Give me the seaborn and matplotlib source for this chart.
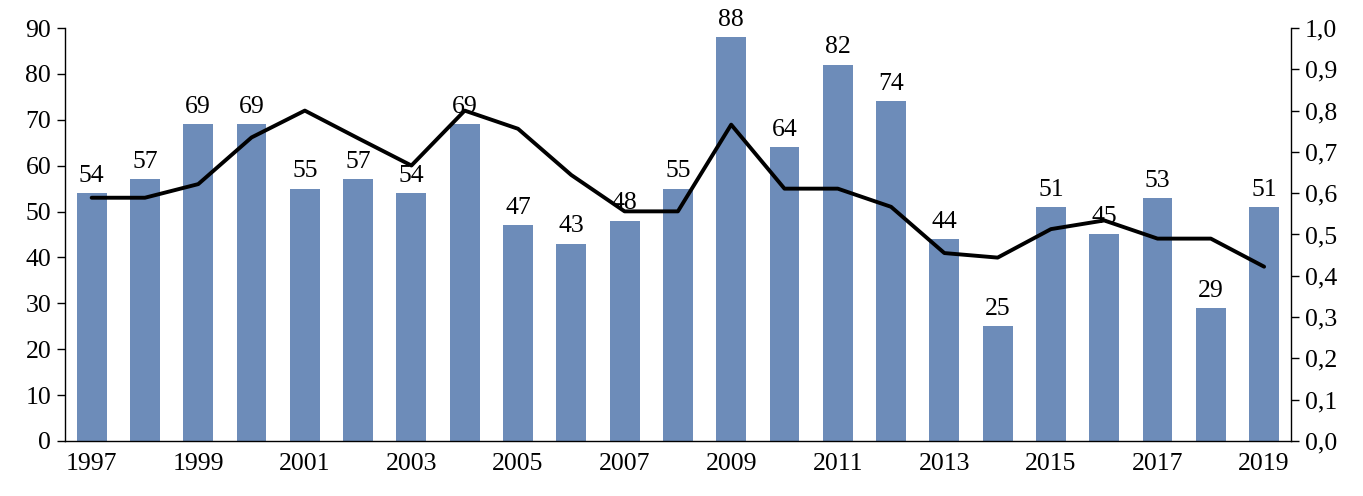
import matplotlib
matplotlib.use("Agg")
import matplotlib.pyplot as plt
import numpy as np
import pandas as pd
import seaborn as sns
from matplotlib.ticker import FuncFormatter, MultipleLocator

# data
years = list(range(1997, 2020))
counts = [54, 57, 69, 69, 55, 57, 54, 69, 47, 43, 48, 55, 88, 64, 82, 74, 44, 25, 51, 45, 53, 29, 51]
ratio = [0.589, 0.589, 0.622, 0.735, 0.800, 0.733, 0.667, 0.800, 0.756, 0.644, 0.556, 0.556,
         0.766, 0.611, 0.611, 0.567, 0.455, 0.444, 0.513, 0.534, 0.490, 0.490, 0.422]

BAR_COLOR = "#6d8cb9"
FS = 18.5

df = pd.DataFrame({"year": years, "count": counts, "ratio": ratio})
df["pos"] = np.arange(len(df))

sns.set_theme(style="white")
plt.rcParams["font.family"] = ["Liberation Serif", "DejaVu Serif"]
plt.rcParams["font.size"] = FS

fig, ax = plt.subplots(figsize=(13.63, 4.96), dpi=100)
fig.subplots_adjust(left=0.0477, right=0.947, bottom=0.111, top=0.9435)

sns.barplot(data=df, x="year", y="count", color=BAR_COLOR, saturation=1,
            width=0.56, linewidth=0, ax=ax)
ax.set_xlim(-0.5, len(df) - 0.5)
ax.set_ylim(0, 90)
ax.yaxis.set_major_locator(MultipleLocator(10))
ax.set_xlabel("")
ax.set_ylabel("")

for p, c in zip(df["pos"], df["count"]):
    ax.annotate(f"{c}", (p, c), xytext=(0, 4.5), textcoords="offset points",
                ha="center", va="bottom", fontsize=FS, color="black")

ax.set_xticks(df["pos"][::2])
ax.set_xticklabels(df["year"][::2])
ax.tick_params(axis="x", length=0, pad=9, labelsize=FS, colors="black")
ax.tick_params(axis="y", direction="out", length=6, width=1, pad=4, labelsize=FS,
               colors="black", left=True)

for side in ["top", "right"]:
    ax.spines[side].set_visible(False)
for side in ["left", "bottom"]:
    ax.spines[side].set_color("black")
    ax.spines[side].set_linewidth(1)

ax2 = ax.twinx()
sns.lineplot(data=df, x="pos", y="ratio", color="black", linewidth=2.8, ax=ax2)
ax2.set_ylim(0, 1.0)
ax2.yaxis.set_major_locator(MultipleLocator(0.1))
ax2.yaxis.set_major_formatter(FuncFormatter(lambda v, _: f"{v:.1f}".replace(".", ",")))
ax2.set_xlim(-0.5, len(df) - 0.5)
ax2.set_xlabel("")
ax2.set_ylabel("")
ax2.tick_params(axis="y", direction="out", length=6, width=1, pad=4, labelsize=FS,
                colors="black", right=True)
for side in ["top", "left", "bottom"]:
    ax2.spines[side].set_visible(False)
ax2.spines["right"].set_color("black")
ax2.spines["right"].set_linewidth(1)

fig.savefig("out.png", dpi=100)
